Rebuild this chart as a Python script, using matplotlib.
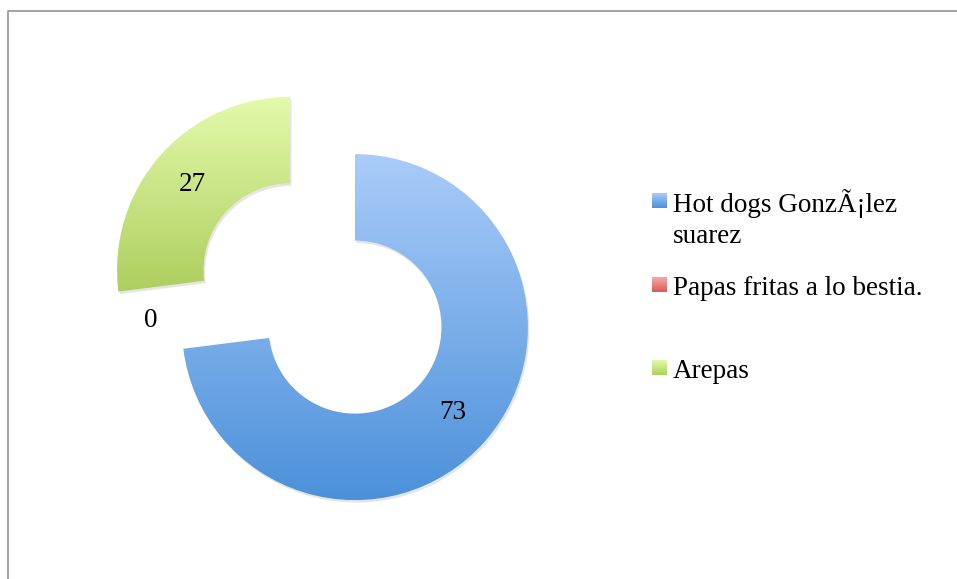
import matplotlib; matplotlib.use('Agg')
import matplotlib.pyplot as plt
import numpy as np
from matplotlib.colors import LinearSegmentedColormap
from matplotlib.patches import Wedge

plt.rcParams['font.family'] = ['Liberation Serif', 'DejaVu Serif']

labels = ['Hot dogs GonzÃ¡lez\nsuarez', 'Papas fritas a lo bestia.', 'Arepas']
values = [73, 0, 27]
tops = ['#a9ccf9', '#f6aaa6', '#e3faab']
bottoms = ['#4b90d9', '#dc5a55', '#aece5e']

W, H = 957, 579
R = 173
FS = 19.5
fig = plt.figure(figsize=(W/100, H/100), dpi=100)
ax = fig.add_axes([0, 0, 1, 1])

total = sum(values)
wedges, texts, autotexts = ax.pie(
    values, radius=R, center=(322.5, H-298.5), startangle=90, counterclock=False,
    explode=[0.25*R]*len(values), colors=tops,
    wedgeprops=dict(width=0.5*R, linewidth=0),
    autopct=lambda p: f'{p*total/100:.0f}', pctdistance=0.75,
    textprops=dict(fontsize=FS, color='black'))
ax.set_xlim(0, W); ax.set_ylim(0, H); ax.set_aspect('equal'); ax.axis('off')

grad = np.linspace(0, 1, 256).reshape(-1, 1)
for w, v, c0, c1 in zip(wedges, values, tops, bottoms):
    if v == 0:
        continue
    # soft shadow
    sh = Wedge((w.center[0]+1.5, w.center[1]-2.5), w.r, w.theta1, w.theta2, width=w.width,
               fc='#000000', alpha=0.1, lw=0, zorder=0.5)
    ax.add_patch(sh)
    verts = w.get_path().vertices
    x0, x1 = verts[:, 0].min(), verts[:, 0].max()
    y0, y1 = verts[:, 1].min(), verts[:, 1].max()
    cm = LinearSegmentedColormap.from_list('g', [c0, c1])
    im = ax.imshow(grad, cmap=cm, extent=(x0, x1, y0, y1), aspect='auto',
                   origin='upper', zorder=1.5)
    im.set_clip_path(w)
    w.set_facecolor('none')
for t in autotexts:
    t.set_zorder(3)
ax.set_xlim(0, W); ax.set_ylim(0, H)

# legend (baseline = last line of each label)
sq_tops = [193, 277, 360]
base = [243, 295, 378]
for lab, c0, c1, st, b in zip(labels, tops, bottoms, sq_tops, base):
    cm = LinearSegmentedColormap.from_list('g', [c0, c1])
    ax.imshow(grad, cmap=cm, extent=(652, 667, H-st-15, H-st), aspect='auto',
              origin='upper', zorder=2)
    ax.text(673, H-b, lab, fontsize=FS, va='baseline', ha='left', linespacing=1.31)
ax.set_xlim(0, W); ax.set_ylim(0, H)

# frame
ax.plot([8, 8, W], [0, H-11, H-11], color='#9c9c9c', lw=1.3, clip_on=False)

fig.savefig('out.png', dpi=100)
